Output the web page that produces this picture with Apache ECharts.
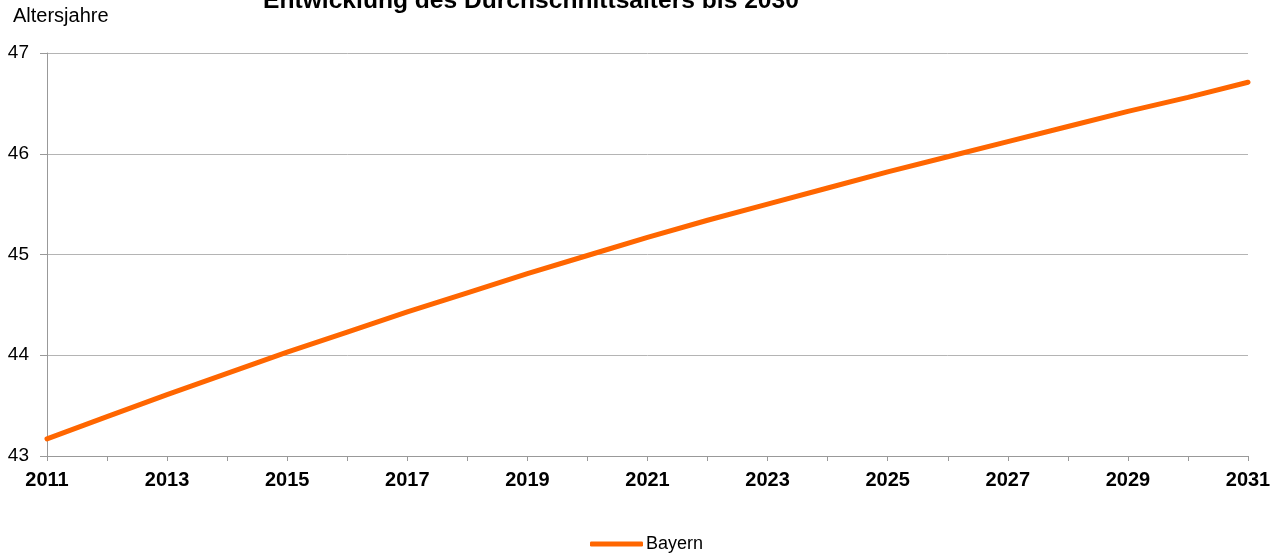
<!DOCTYPE html>
<html>
<head>
<meta charset="utf-8">
<script src="https://cdn.jsdelivr.net/npm/echarts@6/dist/echarts.min.js"></script>
<style>
html,body{margin:0;padding:0;background:#fff;}
#chart{width:1277px;height:556px;}
</style>
</head>
<body>
<div id="chart"></div>
<script>
const titleText = 'Entwicklung des Durchschnittsalters bis 2030';
const yAxisName = 'Altersjahre';
const seriesName = 'Bayern';
const years = ['2011','2012','2013','2014','2015','2016','2017','2018','2019','2020','2021',
               '2022','2023','2024','2025','2026','2027','2028','2029','2030','2031'];
const bayern = [43.17,43.39,43.61,43.82,44.03,44.23,44.43,44.62,44.81,44.99,45.17,
                45.34,45.50,45.66,45.82,45.97,46.12,46.27,46.42,46.56,46.71];
const yTicks = [43,44,45,46,47];

const FONT = 'Liberation Sans, Arial, sans-serif';
const chart = echarts.init(document.getElementById('chart'));
chart.setOption({
  animation: false,
  backgroundColor: '#ffffff',
  textStyle: { fontFamily: FONT },
  graphic: [
    { type: 'text', x: 531, y: 1,
      style: { text: titleText, fontFamily: FONT, fontWeight: 'bold',
               fontSize: 24.6, fill: '#000', align: 'center', verticalAlign: 'middle' } },
    { type: 'text', x: 13, y: 16,
      style: { text: yAxisName, fontFamily: FONT,
               fontSize: 20, fill: '#000', align: 'left', verticalAlign: 'middle' } }
  ],
  grid: { left: 47, right: 29, top: 53, bottom: 100, containLabel: false },
  legend: {
    top: 530, left: 585,
    icon: 'roundRect',
    itemWidth: 53, itemHeight: 5, itemGap: 20,
    textStyle: { fontSize: 18, color: '#000', fontFamily: FONT, padding: [0,0,0,-2] },
    data: [seriesName]
  },
  xAxis: {
    type: 'category',
    data: years,
    boundaryGap: false,
    axisLine: { show: true, lineStyle: { color: '#999', width: 1 } },
    axisTick: { show: true, interval: 0, length: 5, lineStyle: { color: '#999' } },
    axisLabel: { interval: 1, margin: 14, fontSize: 20, fontWeight: 'bold', color: '#000', fontFamily: FONT },
    splitLine: { show: false }
  },
  yAxis: {
    type: 'value',
    min: yTicks[0], max: yTicks[yTicks.length - 1], interval: 1,
    axisLine: { show: true, lineStyle: { color: '#999', width: 1 } },
    axisTick: { show: true, length: 7, lineStyle: { color: '#999' } },
    axisLabel: { margin: 18, fontSize: 19, color: '#000', fontFamily: FONT },
    splitLine: { show: true, lineStyle: { color: '#b4b4b4', width: 1 } }
  },
  series: [{
    name: seriesName,
    type: 'line',
    data: bayern,
    symbol: 'none',
    smooth: false,
    lineStyle: { color: '#ff6600', width: 5, cap: 'round' },
    itemStyle: { color: '#ff6600' }
  }]
});
</script>
</body>
</html>
